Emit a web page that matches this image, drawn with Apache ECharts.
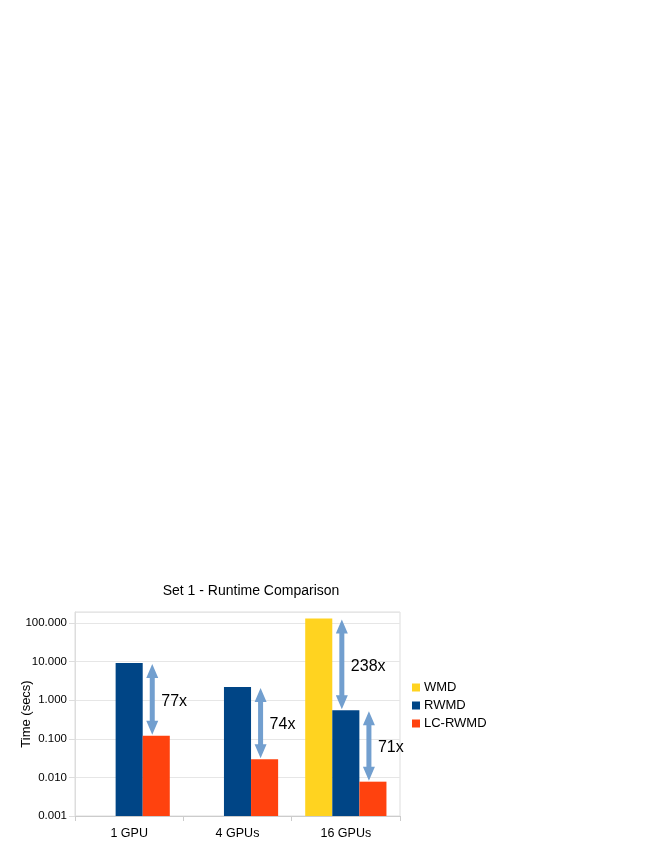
<!DOCTYPE html>
<html>
<head>
<meta charset="utf-8">
<script src="https://cdn.jsdelivr.net/npm/echarts@6/dist/echarts.min.js"></script>
<style>
  html, body { margin: 0; padding: 0; background: #fff; }
  #chart { width: 664px; height: 860px; }
</style>
</head>
<body>
<div id="chart"></div>
<script>
  var categories = ['1 GPU', '4 GPUs', '16 GPUs'];
  var seriesNames = ['WMD', 'RWMD', 'LC-RWMD'];
  var wmdTimes = [null, null, 131];
  var rwmdTimes = [9.2, 2.2, 0.55];
  var lcRwmdTimes = [0.12, 0.0297, 0.00775];
  var axisMin = 0.001;

  // speed-up arrows: category, upper value, lower value, lower bar (series index), label
  var arrowCats = [0, 1, 2, 2];
  var arrowFrom = [9.2, 2.2, 131, 0.55];
  var arrowTo = [0.12, 0.0297, 0.55, 0.00775];
  var arrowBar = [2, 2, 1, 2];
  var arrowLabels = ['77x', '74x', '238x', '71x'];

  var colors = ['#ffd320', '#004586', '#ff420e'];
  var font = 'Liberation Sans, Arial, sans-serif';

  var arrowData = arrowCats.map(function (c, i) {
    return [c, arrowFrom[i], arrowTo[i], arrowBar[i], i];
  });

  // log axis bars grow from 1, so each one sits on a hidden base bar that reaches the axis min
  var allTimes = [wmdTimes, rwmdTimes, lcRwmdTimes];
  var barSeries = [];
  allTimes.forEach(function (times, i) {
    barSeries.push({
      type: 'bar', stack: 's' + i, silent: true,
      barGap: 0, barCategoryGap: '25%',
      itemStyle: { color: 'rgba(0,0,0,0)' },
      data: categories.map(function () { return axisMin; })
    });
    barSeries.push({
      name: seriesNames[i], type: 'bar', stack: 's' + i,
      barGap: 0, barCategoryGap: '25%',
      itemStyle: { color: colors[i] },
      data: times.map(function (v) { return v == null ? null : v - axisMin; })
    });
  });

  var chart = echarts.init(document.getElementById('chart'));

  var option = {
    backgroundColor: '#fff',
    animation: false,
    title: {
      text: 'Set 1 - Runtime Comparison',
      left: 246,
      textAlign: 'center',
      top: 579,
      textStyle: { fontFamily: font, fontSize: 14, fontWeight: 'normal', color: '#000' }
    },
    legend: {
      data: seriesNames,
      orient: 'vertical',
      left: 407,
      top: 676,
      itemWidth: 8,
      itemHeight: 8,
      itemGap: 5,
      icon: 'rect',
      textStyle: { fontFamily: font, fontSize: 13, color: '#000', padding: [0, 0, 0, -1] }
    },
    grid: {
      left: 75,
      right: 264,
      top: 612,
      bottom: 44,
      show: true,
      borderColor: '#dddddd',
      borderWidth: 1
    },
    xAxis: {
      type: 'category',
      data: categories,
      axisLine: { lineStyle: { color: '#cccccc' } },
      axisTick: { show: true, length: 5, lineStyle: { color: '#cccccc' } },
      axisLabel: { fontFamily: font, fontSize: 12.5, color: '#000', margin: 11 }
    },
    yAxis: {
      type: 'log',
      logBase: 10,
      min: axisMin,
      max: Math.pow(10, 2.285),
      name: 'Time (secs)',
      nameLocation: 'middle',
      nameRotate: 90,
      nameGap: 42,
      nameMoveOverlap: false,
      nameTextStyle: { fontFamily: font, fontSize: 13, color: '#000' },
      axisLine: { show: true, lineStyle: { color: '#dddddd' } },
      axisTick: { show: true, length: 6, lineStyle: { color: '#dddddd' } },
      splitLine: { lineStyle: { color: '#e6e6e6' } },
      axisLabel: {
        fontFamily: font, fontSize: 11.5, color: '#000', margin: 8,
        showMaxLabel: false,
        formatter: function (v) {
          var l = Math.log10(v);
          if (Math.abs(l - Math.round(l)) > 1e-6) return '';
          return Number(v).toFixed(3);
        }
      }
    },
    series: barSeries.concat([
      {
        type: 'custom',
        name: 'arrows',
        data: arrowData,
        encode: { x: 0, y: [1, 2] },
        z: 5,
        renderItem: function (params, api) {
          var cat = api.value(0);
          var top = api.coord([cat, api.value(1)]);
          var bot = api.coord([cat, api.value(2)]);
          var band = api.size([1, 0])[0];
          var barW = band * 0.75 / 3;
          var bar = api.value(3);
          var ax = top[0] - band * 0.375 + barW * (bar + 0.5) - 4;
          var y1 = top[1] + 1, y2 = bot[1] - 1;
          var hw = 6, hl = 14, sw = 2.5;
          var pts = [
            [ax, y1], [ax + hw, y1 + hl], [ax + sw, y1 + hl],
            [ax + sw, y2 - hl], [ax + hw, y2 - hl], [ax, y2],
            [ax - hw, y2 - hl], [ax - sw, y2 - hl], [ax - sw, y1 + hl],
            [ax - hw, y1 + hl]
          ];
          return {
            type: 'group',
            children: [
              { type: 'polygon', shape: { points: pts }, style: { fill: '#729fcf' } },
              {
                type: 'text',
                style: {
                  x: ax + 9, y: (y1 + y2) / 2 + 2,
                  text: arrowLabels[api.value(4)],
                  fill: '#000',
                  font: '16px ' + font,
                  verticalAlign: 'middle'
                }
              }
            ]
          };
        }
      }
    ])
  };

  chart.setOption(option);
</script>
</body>
</html>
